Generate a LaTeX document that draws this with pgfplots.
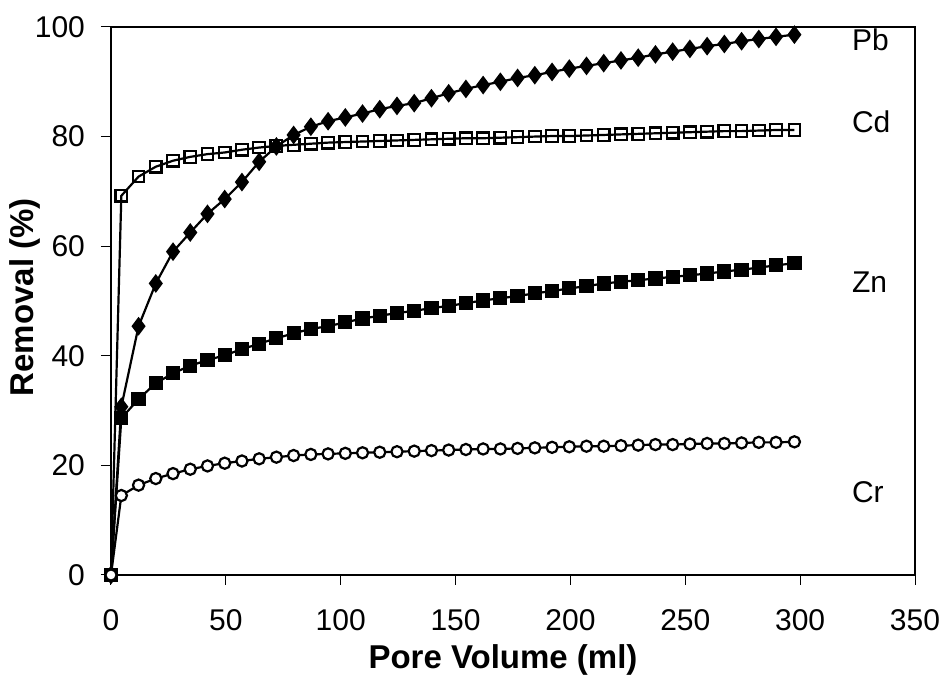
\documentclass[border=0pt]{standalone}
\usepackage{pgfplots}
\pgfplotsset{compat=1.18}
\usepackage{fontspec}
\setmainfont{Liberation Sans}
\pgfplotstableread{
x Pb Cd Zn Cr
0 0 0 0 0
4.5 30.7 69.2 28.6 14.5
12 45.4 72.7 32.1 16.4
19.5 53.2 74.5 35.0 17.6
27 59.0 75.6 36.8 18.5
34.5 62.5 76.3 38.2 19.3
42 65.9 76.8 39.2 19.9
49.5 68.6 77.1 40.1 20.4
57 71.7 77.6 41.2 20.8
64.5 75.4 78.0 42.2 21.2
72 78.2 78.3 43.2 21.5
79.5 80.3 78.5 44.1 21.8
87 81.8 78.7 44.9 22.0
94.5 82.8 78.9 45.4 22.1
102 83.5 79.0 46.1 22.2
109.5 84.2 79.1 46.8 22.3
117 85.0 79.2 47.3 22.4
124.5 85.6 79.3 47.8 22.5
132 86.1 79.4 48.2 22.6
139.5 87.0 79.5 48.7 22.7
147 87.9 79.6 49.1 22.8
154.5 88.7 79.7 49.6 22.9
162 89.4 79.7 50.1 23.0
169.5 90.0 79.8 50.5 23.0
177 90.7 79.9 50.9 23.1
184.5 91.2 80.0 51.4 23.2
192 91.8 80.1 51.8 23.3
199.5 92.4 80.1 52.3 23.4
207 92.9 80.2 52.7 23.5
214.5 93.4 80.3 53.2 23.5
222 93.9 80.4 53.5 23.6
229.5 94.4 80.5 53.8 23.7
237 95.0 80.6 54.1 23.8
244.5 95.5 80.7 54.4 23.8
252 96.0 80.8 54.7 23.9
259.5 96.5 80.9 55.0 24.0
267 96.9 81.0 55.4 24.0
274.5 97.4 81.0 55.7 24.1
282 97.8 81.1 56.1 24.2
289.5 98.2 81.2 56.5 24.2
297.5 98.6 81.2 56.9 24.3
}\datatable
\begin{document}
\begin{tikzpicture}
\begin{axis}[
  scale only axis,
  width=402pt, height=274pt,
  xmin=0, xmax=350, ymin=0, ymax=100,
  xtick={0,50,...,350}, ytick={0,20,...,100},
  tick pos=left,
  tick align=outside,
  major tick length=5pt,
  axis line style={line width=1pt},
  every tick/.style={black, line width=0.5pt},
  /pgf/number format/assume math mode=true,
  tick label style={font=\fontsize{15}{17}\selectfont},
  xticklabel style={yshift=-8.5pt},
  yticklabel style={xshift=-4.5pt},
  xlabel={Pore Volume (ml)},
  ylabel={Removal (\%)},
  label style={font=\fontsize{16.5}{19}\selectfont\bfseries},
  xlabel style={at={(axis description cs:0.5,0)}, anchor=center, yshift=-42.5pt, xshift=-5pt},
  ylabel style={at={(axis description cs:-0.1076,0.507)}, anchor=center},
  clip=false,
]
\addplot[black, line width=1.1pt, mark=diamond*, mark size=3.8pt, mark options={solid, fill=black}] table[x=x, y=Pb] {\datatable};
\addplot[black, line width=1.1pt, mark=square, mark size=2.9pt, mark options={solid, fill=white, line width=1.1pt}] table[x=x, y=Cd] {\datatable};
\addplot[black, line width=1.1pt, mark=square*, mark size=3.0pt, mark options={solid, fill=black}] table[x=x, y=Zn] {\datatable};
\addplot[black, line width=1.1pt, mark=*, mark size=2.8pt, mark options={solid, fill=white, line width=1.1pt}] table[x=x, y=Cr] {\datatable};
\node[anchor=west, font=\fontsize{15}{17}\selectfont] at (axis cs:319.5,97.6) {Pb};
\node[anchor=west, font=\fontsize{15}{17}\selectfont] at (axis cs:319.5,82.7) {Cd};
\node[anchor=west, font=\fontsize{15}{17}\selectfont] at (axis cs:319.5,53.5) {Zn};
\node[anchor=west, font=\fontsize{15}{17}\selectfont] at (axis cs:319.5,15.1) {Cr};
\coordinate (O) at (rel axis cs:0,0);
\coordinate (T) at (rel axis cs:1,1);
\end{axis}
\pgfresetboundingbox
\path ([shift={(-55.5pt,-51pt)}]O) rectangle ([shift={(15pt,13.5pt)}]T);
\end{tikzpicture}
\end{document}
